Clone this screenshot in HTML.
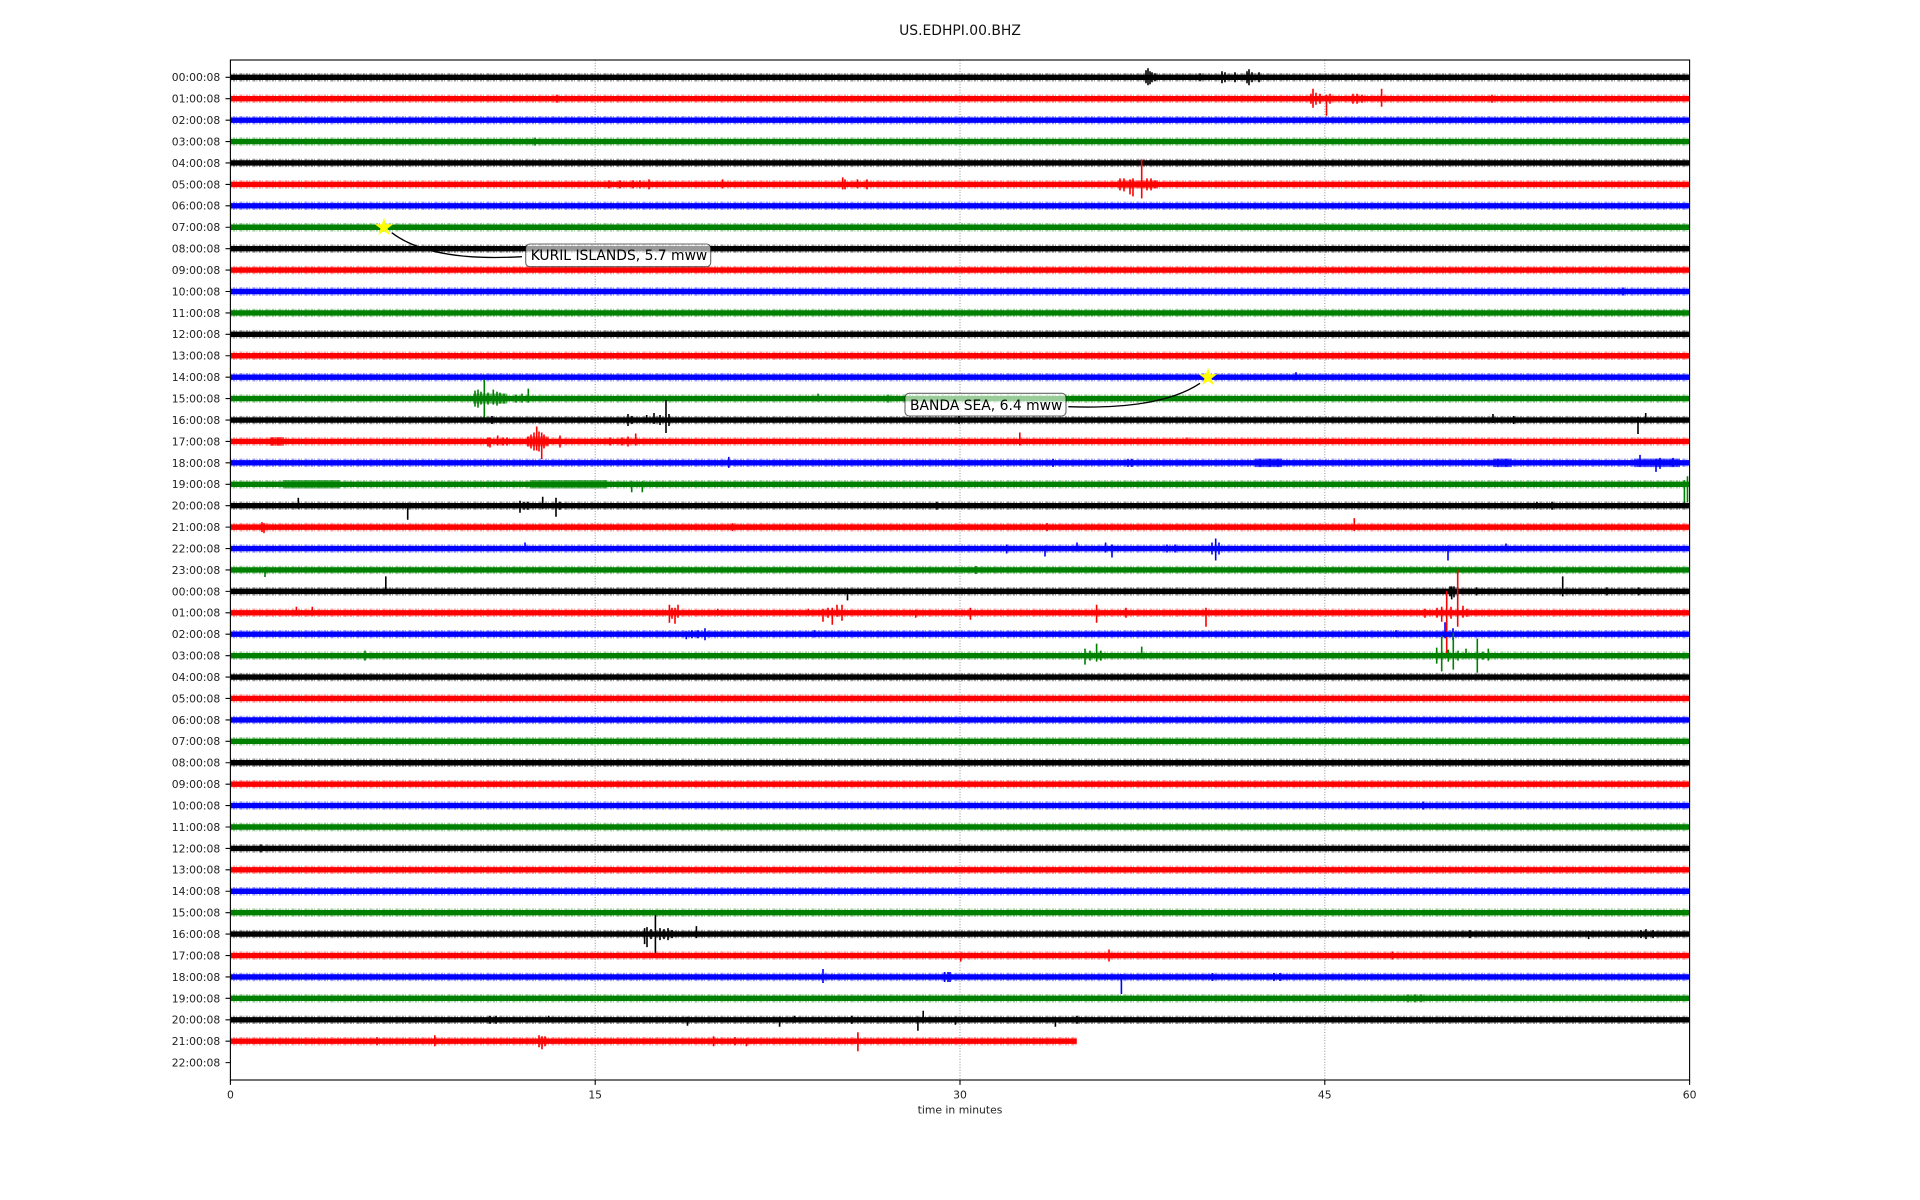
<!DOCTYPE html>
<html><head><meta charset="utf-8"><style>
html,body{margin:0;padding:0;background:#fff}
svg{display:block}
.f{stroke:currentColor;stroke-width:8.4;opacity:.4;stroke-dasharray:1 1.5 2 1 1 2.5 3 1;fill:none}
.b{stroke:currentColor;stroke-width:5.4;fill:none}
.e{stroke:currentColor;stroke-width:1.6;fill:none}
.t{stroke:currentColor;stroke-width:8.5;opacity:.6;fill:none}
.r{fill:currentColor;opacity:.5}
.yl{font-size:10.8px;text-anchor:end;fill:#222}
.xl{font-size:10.8px;text-anchor:middle;fill:#222}
</style></head><body>
<svg width="1920" height="1200" viewBox="0 0 1920 1200" xmlns="http://www.w3.org/2000/svg" font-family="'DejaVu Sans','Liberation Sans',sans-serif">
<rect x="0" y="0" width="1920" height="1200" fill="#fff"/>
<text x="960" y="35" text-anchor="middle" font-size="13.9" fill="#111">US.EDHPI.00.BHZ</text>

<!-- grid -->
<g stroke="#909090" stroke-width="1" stroke-dasharray="1 1.7">
<path d="M595.2 60V1080M960 60V1080M1324.8 60V1080"/>
</g>

<!-- traces -->
<g transform="translate(0,77.3)" style="color:#000"><path class="f" d="M230.4 0H1689.6"/><path class="b" d="M230.4 0H1689.6"/><path class="e" d="M1146 -7V6M1148 -9V8M1150 -6V7M1152 -5V5M1155 -4V4M1200 -4V4M1222 -6V6M1225 -5V5M1235 -5V5M1247 -6V6M1249 -8V8M1252 -5V5M1259 -5V5"/></g>
<g transform="translate(0,98.72)" style="color:#f00"><path class="f" d="M230.4 0H1689.6"/><path class="b" d="M230.4 0H1689.6"/><path class="e" d="M557 -4V4M1311 -5V5M1313 -10V9M1316 -6V6M1320 -5V5M1326.5 -4V17M1330 -5V5M1353 -5V5M1357 -5V5M1362 -4V4M1381.6 -10V8M1492 -4V4"/></g>
<g transform="translate(0,120.14)" style="color:#00f"><path class="f" d="M230.4 0H1689.6"/><path class="b" d="M230.4 0H1689.6"/></g>
<g transform="translate(0,141.56)" style="color:#008000"><path class="f" d="M230.4 0H1689.6"/><path class="b" d="M230.4 0H1689.6"/><path class="e" d="M535 -4V4"/></g>
<g transform="translate(0,162.98)" style="color:#000"><path class="f" d="M230.4 0H1689.6"/><path class="b" d="M230.4 0H1689.6"/></g>
<g transform="translate(0,184.4)" style="color:#f00"><path class="f" d="M230.4 0H1689.6"/><path class="b" d="M230.4 0H1689.6"/><rect class="r" x="1118" y="-4" width="40" height="8"/><path class="e" d="M1120 -6V6M1124 -6V7M1130 -5V10M1133 -6V12M1141.7 -25V14M1147 -6V6M1151 -6V6M1155 -4V4M609 -4V4M620 -4V4M633 -4V4M640 -4V4M649 -5V5M722.6 -5V4M842.7 -7V5M845 -5V5M857.4 -5V4M867 -5V5"/></g>
<g transform="translate(0,205.82)" style="color:#00f"><path class="f" d="M230.4 0H1689.6"/><path class="b" d="M230.4 0H1689.6"/></g>
<g transform="translate(0,227.24)" style="color:#008000"><path class="f" d="M230.4 0H1689.6"/><path class="b" d="M230.4 0H1689.6"/></g>
<g transform="translate(0,248.66)" style="color:#000"><path class="f" d="M230.4 0H1689.6"/><path class="b" d="M230.4 0H1689.6"/></g>
<g transform="translate(0,270.08)" style="color:#f00"><path class="f" d="M230.4 0H1689.6"/><path class="b" d="M230.4 0H1689.6"/></g>
<g transform="translate(0,291.5)" style="color:#00f"><path class="f" d="M230.4 0H1689.6"/><path class="b" d="M230.4 0H1689.6"/><path class="e" d="M1623 -4V4"/></g>
<g transform="translate(0,312.92)" style="color:#008000"><path class="f" d="M230.4 0H1689.6"/><path class="b" d="M230.4 0H1689.6"/></g>
<g transform="translate(0,334.34)" style="color:#000"><path class="f" d="M230.4 0H1689.6"/><path class="b" d="M230.4 0H1689.6"/></g>
<g transform="translate(0,355.76)" style="color:#f00"><path class="f" d="M230.4 0H1689.6"/><path class="b" d="M230.4 0H1689.6"/></g>
<g transform="translate(0,377.18)" style="color:#00f"><path class="f" d="M230.4 0H1689.6"/><path class="b" d="M230.4 0H1689.6"/><path class="e" d="M1296 -5V3"/></g>
<g transform="translate(0,398.6)" style="color:#008000"><path class="f" d="M230.4 0H1689.6"/><path class="b" d="M230.4 0H1689.6"/><rect class="r" x="473" y="-5" width="34" height="10"/><path class="e" d="M475 -8V8M478 -9V9M481 -7V6M484.3 -19V19M488 -6V6M493.3 -9V6M497 -7V7M500 -6V5M504 -5V5M516 -4V4M522 -5V4M528.3 -10V4M818 -5V3M888 -4V4"/></g>
<g transform="translate(0,420.02)" style="color:#000"><path class="f" d="M230.4 0H1689.6"/><path class="b" d="M230.4 0H1689.6"/><path class="e" d="M492 -4V4M628 -6V6M632 -4V4M646.7 -5V3M654 -7V4M660 -5V5M666 -20V13M669 -6V6M959 -4V4M1493 -6V3M1513.6 -4V4M1638 -3V14M1645.7 -7V3"/></g>
<g transform="translate(0,441.44)" style="color:#f00"><path class="f" d="M230.4 0H1689.6"/><path class="b" d="M230.4 0H1689.6"/><rect class="r" x="527" y="-5" width="22" height="10"/><path class="t" d="M270 0H284"/><path class="e" d="M272 -4V4M278 -4V4M488 -4V5M490 -4V6M497.7 -6V4M503 -4V4M507 -4V4M528 -5V5M531 -7V7M534 -9V9M536.7 -15V9M539 -10V10M541.7 -9V17.6M544 -7V7M547 -4V4M560 -6V6M610 -4V4M622 -4V4M628 -5V5M635.7 -8V4M1019.8 -9V4M1187 -4V3"/></g>
<g transform="translate(0,462.86)" style="color:#00f"><path class="f" d="M230.4 0H1689.6"/><path class="b" d="M230.4 0H1689.6"/><path class="t" d="M1255 0H1282M1493 0H1512M1634 0H1680"/><path class="e" d="M728.8 -6V5M1053 -4V4M1128 -4V4M1132 -4V4M1260 -4V4M1270 -4V4M1278 -4V4M1498 -4V4M1506 -4V4M1640 -8V4M1656 -4V9M1660 -5V6M1673 -5V4"/></g>
<g transform="translate(0,484.28)" style="color:#008000"><path class="f" d="M230.4 0H1689.6"/><path class="b" d="M230.4 0H1689.6"/><path class="t" d="M283 0H340M530 0H607"/><path class="e" d="M631.7 -3V8M642.3 -3V8M1684.4 -4V19M1687.5 -8V18"/></g>
<g transform="translate(0,505.7)" style="color:#000"><path class="f" d="M230.4 0H1689.6"/><path class="b" d="M230.4 0H1689.6"/><path class="e" d="M298.3 -8V3M407.7 -3V14M520 -5V7M524 -4V4M528 -4V4M542.7 -9V3M556 -8V11M560 -4V4M937 -4V4M1537 -4V3M1552 -4V4"/></g>
<g transform="translate(0,527.12)" style="color:#f00"><path class="f" d="M230.4 0H1689.6"/><path class="b" d="M230.4 0H1689.6"/><path class="e" d="M262 -5V5M264 -4V6M732.4 -4V4M1047 -4V4M1354.3 -9V4"/></g>
<g transform="translate(0,548.54)" style="color:#00f"><path class="f" d="M230.4 0H1689.6"/><path class="b" d="M230.4 0H1689.6"/><path class="e" d="M525 -6V3M1006.6 -4V5M1045 -3V8M1077 -6V3M1105.6 -6V4M1112 -4V9M1167 -4V4M1175 -4V4M1212 -6V6M1215.7 -10V12M1219 -6V6M1448 -3V12M1506 -5V3"/></g>
<g transform="translate(0,569.96)" style="color:#008000"><path class="f" d="M230.4 0H1689.6"/><path class="b" d="M230.4 0H1689.6"/><path class="e" d="M265 -3V7M976 -4V4"/></g>
<g transform="translate(0,591.38)" style="color:#000"><path class="f" d="M230.4 0H1689.6"/><path class="b" d="M230.4 0H1689.6"/><path class="e" d="M385.8 -15V3M847.5 -3V9M1450 -5V5M1451.7 -5V8M1454 -5V6M1476.7 -4V4M1562.7 -15V5M1607 -4V4M1638.8 -4V4"/></g>
<g transform="translate(0,612.8)" style="color:#f00"><path class="f" d="M230.4 0H1689.6"/><path class="b" d="M230.4 0H1689.6"/><path class="e" d="M296.4 -6V3M312.3 -6V3M669.4 -8V10M672 -5V6M675 -5V11M678 -8V5M717.8 -4V3M808.3 -4V3M823 -4V9M828 -5V5M832.3 -5V12M837 -8V4M842 -8V8M915.7 -3V5M970.4 -5V7M1096.6 -8V10M1126 -5V5M1206 -5V14M1425 -4V5M1437 -5V5M1441.7 -6V9M1446.7 -21.7V41.3M1451 -6V6M1457.7 -43.4V14M1463 -7V5M1467 -4V4"/></g>
<g transform="translate(0,634.22)" style="color:#00f"><path class="f" d="M230.4 0H1689.6"/><path class="b" d="M230.4 0H1689.6"/><path class="e" d="M686.3 -3V5M692 -4V4M698 -4V4M705 -6V6M814.6 -4V3M1396 -4V3M1445 -12V4M1453 -6V6"/></g>
<g transform="translate(0,655.64)" style="color:#008000"><path class="f" d="M230.4 0H1689.6"/><path class="b" d="M230.4 0H1689.6"/><path class="e" d="M365 -5V5M1085 -7V9M1090 -5V5M1096.6 -12V6M1100.8 -5V5M1141.7 -9V3M1436.7 -8V8M1441.7 -20V15.7M1448.3 -6V6M1453.3 -23V14M1458 -5V5M1466 -7V3M1477.3 -17V17M1483 -4V4M1488.3 -7V5"/></g>
<g transform="translate(0,677.06)" style="color:#000"><path class="f" d="M230.4 0H1689.6"/><path class="b" d="M230.4 0H1689.6"/></g>
<g transform="translate(0,698.48)" style="color:#f00"><path class="f" d="M230.4 0H1689.6"/><path class="b" d="M230.4 0H1689.6"/></g>
<g transform="translate(0,719.9)" style="color:#00f"><path class="f" d="M230.4 0H1689.6"/><path class="b" d="M230.4 0H1689.6"/></g>
<g transform="translate(0,741.32)" style="color:#008000"><path class="f" d="M230.4 0H1689.6"/><path class="b" d="M230.4 0H1689.6"/></g>
<g transform="translate(0,762.74)" style="color:#000"><path class="f" d="M230.4 0H1689.6"/><path class="b" d="M230.4 0H1689.6"/></g>
<g transform="translate(0,784.16)" style="color:#f00"><path class="f" d="M230.4 0H1689.6"/><path class="b" d="M230.4 0H1689.6"/></g>
<g transform="translate(0,805.58)" style="color:#00f"><path class="f" d="M230.4 0H1689.6"/><path class="b" d="M230.4 0H1689.6"/><path class="e" d="M1423 -4V4"/></g>
<g transform="translate(0,827)" style="color:#008000"><path class="f" d="M230.4 0H1689.6"/><path class="b" d="M230.4 0H1689.6"/></g>
<g transform="translate(0,848.42)" style="color:#000"><path class="f" d="M230.4 0H1689.6"/><path class="b" d="M230.4 0H1689.6"/><path class="e" d="M261 -4V4"/></g>
<g transform="translate(0,869.84)" style="color:#f00"><path class="f" d="M230.4 0H1689.6"/><path class="b" d="M230.4 0H1689.6"/></g>
<g transform="translate(0,891.26)" style="color:#00f"><path class="f" d="M230.4 0H1689.6"/><path class="b" d="M230.4 0H1689.6"/></g>
<g transform="translate(0,912.68)" style="color:#008000"><path class="f" d="M230.4 0H1689.6"/><path class="b" d="M230.4 0H1689.6"/></g>
<g transform="translate(0,934.1)" style="color:#000"><path class="f" d="M230.4 0H1689.6"/><path class="b" d="M230.4 0H1689.6"/><path class="e" d="M644.6 -6V10M647 -7V13M651 -5V5M655.4 -19V19M660 -6V6M664 -5V5M668 -6V6M672 -4V4M696.4 -8V4M1470 -4V4M1588.6 -3V5M1641 -4V4M1646 -5V5M1653 -4V4"/></g>
<g transform="translate(0,955.52)" style="color:#f00"><path class="f" d="M230.4 0H1689.6"/><path class="b" d="M230.4 0H1689.6"/><path class="e" d="M960.7 -3V6M1109 -6V6M1392.6 -4V4"/></g>
<g transform="translate(0,976.94)" style="color:#00f"><path class="f" d="M230.4 0H1689.6"/><path class="b" d="M230.4 0H1689.6"/><path class="e" d="M823 -8V6M944.6 -5V5M948 -5V5M950 -5V5M1121.4 -3V17M1212.6 -4V4M1274 -4V4M1280 -4V4"/></g>
<g transform="translate(0,998.36)" style="color:#008000"><path class="f" d="M230.4 0H1689.6"/><path class="b" d="M230.4 0H1689.6"/><path class="e" d="M1408 -4V4M1415 -4V4M1421 -4V4"/></g>
<g transform="translate(0,1019.78)" style="color:#000"><path class="f" d="M230.4 0H1689.6"/><path class="b" d="M230.4 0H1689.6"/><path class="e" d="M490 -4V4M496 -4V4M548.7 -4V3M687.5 -3V6M779.6 -3V7M794.6 -4V3M851.8 -4V4M917.9 -3V11M923.2 -9V3M955.4 -3V5M1055.4 -3V7M1077 -4V4"/></g>
<g transform="translate(0,1041.2)" style="color:#f00"><path class="f" d="M230.4 0H1076.8"/><path class="b" d="M230.4 0H1076.8"/><path class="e" d="M377 -4V4M434.8 -6V5M539 -6V6M542 -5V8M545 -5V5M713.6 -5V5M735 -4V4M746.4 -3V5M857.9 -9V10"/></g>

<!-- frame -->
<rect x="230.4" y="60" width="1459.2" height="1020" fill="none" stroke="#000" stroke-width="1.1"/>

<!-- y ticks -->
<path stroke="#000" stroke-width="1.1" d="M225.5 77.3H230.4M225.5 98.72H230.4M225.5 120.14H230.4M225.5 141.56H230.4M225.5 162.98H230.4M225.5 184.4H230.4M225.5 205.82H230.4M225.5 227.24H230.4M225.5 248.66H230.4M225.5 270.08H230.4M225.5 291.5H230.4M225.5 312.92H230.4M225.5 334.34H230.4M225.5 355.76H230.4M225.5 377.18H230.4M225.5 398.6H230.4M225.5 420.02H230.4M225.5 441.44H230.4M225.5 462.86H230.4M225.5 484.28H230.4M225.5 505.7H230.4M225.5 527.12H230.4M225.5 548.54H230.4M225.5 569.96H230.4M225.5 591.38H230.4M225.5 612.8H230.4M225.5 634.22H230.4M225.5 655.64H230.4M225.5 677.06H230.4M225.5 698.48H230.4M225.5 719.9H230.4M225.5 741.32H230.4M225.5 762.74H230.4M225.5 784.16H230.4M225.5 805.58H230.4M225.5 827H230.4M225.5 848.42H230.4M225.5 869.84H230.4M225.5 891.26H230.4M225.5 912.68H230.4M225.5 934.1H230.4M225.5 955.52H230.4M225.5 976.94H230.4M225.5 998.36H230.4M225.5 1019.78H230.4M225.5 1041.2H230.4M225.5 1062.62H230.4"/>
<g class="yl">
<text class="yl" x="220.3" y="81.2">00:00:08</text>
<text class="yl" x="220.3" y="102.62">01:00:08</text>
<text class="yl" x="220.3" y="124.04">02:00:08</text>
<text class="yl" x="220.3" y="145.46">03:00:08</text>
<text class="yl" x="220.3" y="166.88">04:00:08</text>
<text class="yl" x="220.3" y="188.3">05:00:08</text>
<text class="yl" x="220.3" y="209.72">06:00:08</text>
<text class="yl" x="220.3" y="231.14">07:00:08</text>
<text class="yl" x="220.3" y="252.56">08:00:08</text>
<text class="yl" x="220.3" y="273.98">09:00:08</text>
<text class="yl" x="220.3" y="295.4">10:00:08</text>
<text class="yl" x="220.3" y="316.82">11:00:08</text>
<text class="yl" x="220.3" y="338.24">12:00:08</text>
<text class="yl" x="220.3" y="359.66">13:00:08</text>
<text class="yl" x="220.3" y="381.08">14:00:08</text>
<text class="yl" x="220.3" y="402.5">15:00:08</text>
<text class="yl" x="220.3" y="423.92">16:00:08</text>
<text class="yl" x="220.3" y="445.34">17:00:08</text>
<text class="yl" x="220.3" y="466.76">18:00:08</text>
<text class="yl" x="220.3" y="488.18">19:00:08</text>
<text class="yl" x="220.3" y="509.6">20:00:08</text>
<text class="yl" x="220.3" y="531.02">21:00:08</text>
<text class="yl" x="220.3" y="552.44">22:00:08</text>
<text class="yl" x="220.3" y="573.86">23:00:08</text>
<text class="yl" x="220.3" y="595.28">00:00:08</text>
<text class="yl" x="220.3" y="616.7">01:00:08</text>
<text class="yl" x="220.3" y="638.12">02:00:08</text>
<text class="yl" x="220.3" y="659.54">03:00:08</text>
<text class="yl" x="220.3" y="680.96">04:00:08</text>
<text class="yl" x="220.3" y="702.38">05:00:08</text>
<text class="yl" x="220.3" y="723.8">06:00:08</text>
<text class="yl" x="220.3" y="745.22">07:00:08</text>
<text class="yl" x="220.3" y="766.64">08:00:08</text>
<text class="yl" x="220.3" y="788.06">09:00:08</text>
<text class="yl" x="220.3" y="809.48">10:00:08</text>
<text class="yl" x="220.3" y="830.9">11:00:08</text>
<text class="yl" x="220.3" y="852.32">12:00:08</text>
<text class="yl" x="220.3" y="873.74">13:00:08</text>
<text class="yl" x="220.3" y="895.16">14:00:08</text>
<text class="yl" x="220.3" y="916.58">15:00:08</text>
<text class="yl" x="220.3" y="938">16:00:08</text>
<text class="yl" x="220.3" y="959.42">17:00:08</text>
<text class="yl" x="220.3" y="980.84">18:00:08</text>
<text class="yl" x="220.3" y="1002.26">19:00:08</text>
<text class="yl" x="220.3" y="1023.68">20:00:08</text>
<text class="yl" x="220.3" y="1045.1">21:00:08</text>
<text class="yl" x="220.3" y="1066.52">22:00:08</text>
</g>

<!-- x ticks -->
<path stroke="#000" stroke-width="1.1" d="M230.4 1080V1084.9M595.2 1080V1084.9M960 1080V1084.9M1324.8 1080V1084.9M1689.6 1080V1084.9"/>
<text class="xl" x="230.4" y="1098.3">0</text>
<text class="xl" x="595.2" y="1098.3">15</text>
<text class="xl" x="960" y="1098.3">30</text>
<text class="xl" x="1324.8" y="1098.3">45</text>
<text class="xl" x="1689.6" y="1098.3">60</text>
<text class="xl" x="960" y="1113.5">time in minutes</text>

<!-- annotations -->
<path d="M391.7 232.7Q430 262 522 256.7" fill="none" stroke="#000" stroke-width="1.3"/>
<rect x="525.7" y="244" width="185" height="22.7" rx="4.2" ry="4.2" fill="#fff" fill-opacity="0.6" stroke="#000" stroke-opacity="0.6" stroke-width="1.1"/>
<text x="530.7" y="260" font-size="13.89" fill="#000">KURIL ISLANDS, 5.7 mww</text>

<path d="M1200 383.3Q1160 410 1068.3 406.7" fill="none" stroke="#000" stroke-width="1.3"/>
<rect x="905" y="393.3" width="161" height="22.7" rx="4.2" ry="4.2" fill="#fff" fill-opacity="0.6" stroke="#000" stroke-opacity="0.6" stroke-width="1.1"/>
<text x="910" y="410" font-size="13.89" fill="#000">BANDA SEA, 6.4 mww</text>

<!-- stars -->
<polygon transform="translate(384,227.3) scale(0.97)" fill="#ffff00" stroke="#ffff00" stroke-width="0.6" points="0,-9 2.02,-2.78 8.56,-2.78 3.27,1.06 5.29,7.28 0,3.44 -5.29,7.28 -3.27,1.06 -8.56,-2.78 -2.02,-2.78"/>
<polygon transform="translate(1208,377.3) scale(0.97)" fill="#ffff00" stroke="#ffff00" stroke-width="0.6" points="0,-9 2.02,-2.78 8.56,-2.78 3.27,1.06 5.29,7.28 0,3.44 -5.29,7.28 -3.27,1.06 -8.56,-2.78 -2.02,-2.78"/>
</svg>
</body></html>
